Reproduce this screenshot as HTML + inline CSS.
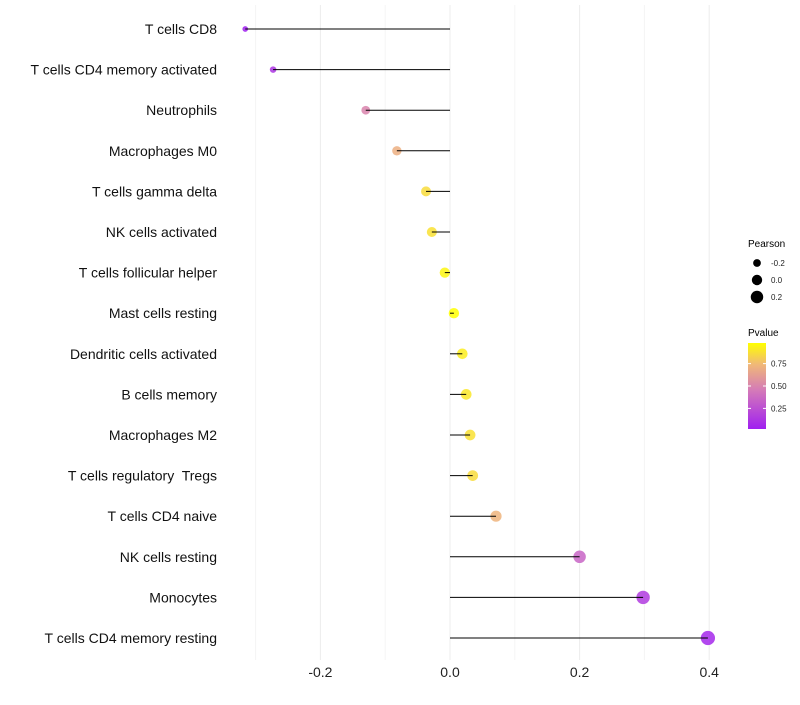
<!DOCTYPE html>
<html><head><meta charset="utf-8"><style>
body{margin:0;background:#fff;font-family:"Liberation Sans",sans-serif}
text{white-space:pre}
</style></head><body>
<svg id="chart" width="800" height="700" xmlns="http://www.w3.org/2000/svg" font-family="Liberation Sans, sans-serif">
<g id="grid"></g>
<g id="marks"></g>
<g id="ylabels"></g>
<g id="xlabels"></g>
<g id="legend">
  <text x="748" y="247" font-size="10" fill="#000">Pearson</text>
  <text x="748" y="336" font-size="10" fill="#000">Pvalue</text>
  <defs><linearGradient id="pg" x1="0" y1="1" x2="0" y2="0">
    <stop offset="0" stop-color="#a020f0"/><stop offset="0.45" stop-color="#d47ab8"/><stop offset="0.75" stop-color="#f0b878"/><stop offset="1" stop-color="#ffff00"/></linearGradient></defs>
  <rect x="748" y="343" width="18" height="86" fill="url(#pg)"/>
</g>
</svg>
<script>
const categories=["T cells CD8","T cells CD4 memory activated","Neutrophils","Macrophages M0","T cells gamma delta","NK cells activated","T cells follicular helper","Mast cells resting","Dendritic cells activated","B cells memory","Macrophages M2","T cells regulatory  Tregs","T cells CD4 naive","NK cells resting","Monocytes","T cells CD4 memory resting"];
const pearson=[-0.316,-0.273,-0.130,-0.082,-0.037,-0.028,-0.008,0.006,0.019,0.025,0.031,0.035,0.071,0.200,0.298,0.398];
const pvalue=[0.02,0.12,0.50,0.70,0.86,0.88,0.95,0.98,0.92,0.90,0.88,0.86,0.72,0.35,0.15,0.06];
const xTicks=[-0.2,0.0,0.2,0.4];
const xTickLabels=["-0.2","0.0","0.2","0.4"];
const xMinor=[-0.3,-0.1,0.1,0.3];
const legendPearson=[-0.2,0.0,0.2];
const legendP=[0.25,0.50,0.75];

const NS="http://www.w3.org/2000/svg";
const sx=v=>450+v*648;
const sy=i=>29+i*40.6;
const rad=v=>Math.sqrt(Math.max(1,27+60*v));
const pMin=0.02,pMax=0.98;
const stops=[[0,[160,32,240]],[0.45,[212,122,184]],[0.75,[240,184,120]],[1,[255,255,0]]];
function col(p){const t=Math.max(0,Math.min(1,(p-pMin)/(pMax-pMin)));
 let k=0;while(k<stops.length-2&&t>stops[k+1][0])k++;
 const [t0,a]=stops[k],[t1,b]=stops[k+1];const u=(t-t0)/(t1-t0);
 return `rgb(${a.map((c,i)=>Math.round(c+(b[i]-c)*u)).join(',')})`;}
function mk(tag,attrs,parent){const e=document.createElementNS(NS,tag);for(const k in attrs)e.setAttribute(k,attrs[k]);parent.appendChild(e);return e;}
const grid=document.getElementById('grid'),marks=document.getElementById('marks'),yl=document.getElementById('ylabels'),xl=document.getElementById('xlabels'),lg=document.getElementById('legend');
xMinor.forEach(v=>{const l=mk('line',{x1:sx(v),x2:sx(v),y1:5,y2:660,stroke:'#f4f4f4','stroke-width':1},grid);
 
 });
xTicks.forEach((v,i)=>{const l=mk('line',{x1:sx(v),x2:sx(v),y1:5,y2:660,stroke:'#ececec','stroke-width':1},grid);
 
 
 const t=mk('text',{x:sx(v),y:677,'font-size':14,'text-anchor':'middle',fill:'#222'},xl);t.textContent=xTickLabels[i];
 
 });
categories.forEach((c,i)=>{
 const y=sy(i);
 const t=mk('text',{x:217,y:y+5,'font-size':14,'text-anchor':'end',fill:'#111'},yl);t.textContent=c;
 
 
 const dot=mk('circle',{cx:sx(pearson[i]),cy:y,r:rad(pearson[i]),fill:col(pvalue[i]),'fill-opacity':0.85},marks);
 
 
 const seg=mk('line',{x1:sx(0),x2:sx(pearson[i]),y1:y,y2:y,stroke:'#000','stroke-width':1},marks);
 
 
});
legendPearson.forEach((v,i)=>{const y=263+i*17;
 const c=mk('circle',{cx:757,cy:y,r:rad(v),fill:'#000'},lg);
 
 
 const t=mk('text',{x:771,y:y+3,'font-size':8,fill:'#222'},lg);t.textContent=v.toFixed(1);
 
 });
legendP.forEach(p=>{const y=429-(p-pMin)/(pMax-pMin)*86;
 mk('line',{x1:748,x2:751,y1:y,y2:y,stroke:'#fff'},lg);mk('line',{x1:763,x2:766,y1:y,y2:y,stroke:'#fff'},lg);
 const t=mk('text',{x:771,y:y+3,'font-size':8,fill:'#222'},lg);t.textContent=p.toFixed(2);
 
 });
</script>
</body></html>
